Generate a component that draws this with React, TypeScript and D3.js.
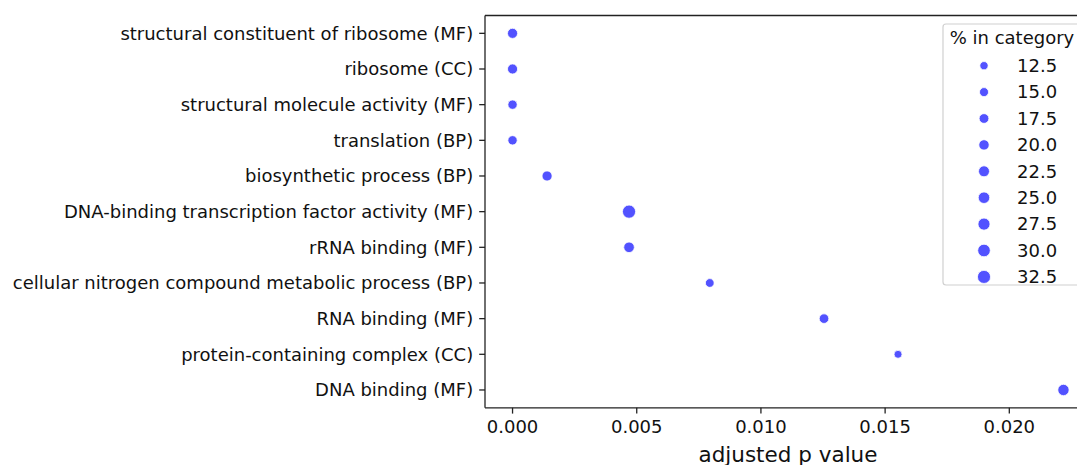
import React from "react";
import * as d3 from "d3";

const categories = [
  "structural constituent of ribosome (MF)",
  "ribosome (CC)",
  "structural molecule activity (MF)",
  "translation (BP)",
  "biosynthetic process (BP)",
  "DNA-binding transcription factor activity (MF)",
  "rRNA binding (MF)",
  "cellular nitrogen compound metabolic process (BP)",
  "RNA binding (MF)",
  "protein-containing complex (CC)",
  "DNA binding (MF)",
];
const adjustedP = [0, 0, 0, 0, 0.00139, 0.00469, 0.00469, 0.00794, 0.01254, 0.01552, 0.02218];
const pctInCategory = [19, 19, 16, 16, 19, 33, 21, 14, 17, 11.5, 24];
const legendValues = [12.5, 15.0, 17.5, 20.0, 22.5, 25.0, 27.5, 30.0, 32.5];
const xTicks = [0, 0.005, 0.01, 0.015, 0.02];

const W = 1077;
const H = 465;
const FONT = "DejaVu Sans, sans-serif";
const FS = 18;

export default function App() {
  const left = 485;
  const top = 15.5;
  const bottom = 407.8;
  const right = 1091;
  const pMax = d3.max(adjustedP) as number;
  const pad = pMax * 0.05;
  const x = d3.scaleLinear().domain([-pad, pMax + pad]).range([left, right]);
  const y = d3.scalePoint<string>().domain(categories).range([top, bottom]).padding(0.5);
  const sMin = d3.min(pctInCategory) as number;
  const sMax = d3.max(pctInCategory) as number;
  const area = d3.scaleLinear().domain([sMin, sMax]).range([8 * 8, 13.2 * 13.2]);
  const rad = (v: number) => Math.sqrt(area(v)) / 2;

  const legX = 943;
  const legTop = 24;
  const legBottom = 285;
  const legRight = 1081;
  const legRow0 = 65.7;
  const legStep = 26.4;
  const ink = "#111";

  return (
    <svg
      width={W}
      height={H}
      style={{ position: "absolute", left: 0, top: 0, background: "#fff" }}
      fontFamily={FONT}
    >
      <rect x={0} y={0} width={W} height={H} fill="#fff" />
      {categories.map((c, i) => (
        <circle
          key={c}
          cx={x(adjustedP[i])}
          cy={y(c) as number}
          r={rad(pctInCategory[i])}
          fill="#0000ff"
          fillOpacity={0.68}
          stroke="#ffffff"
          strokeWidth={0.8}
        />
      ))}
      <line x1={left} x2={W + 20} y1={top} y2={top} stroke="#222" strokeWidth={1.3} />
      <line x1={left} x2={W + 20} y1={bottom} y2={bottom} stroke="#222" strokeWidth={1.3} />
      <line x1={left} x2={left} y1={top} y2={bottom} stroke="#222" strokeWidth={1.3} />
      {categories.map((c) => (
        <g key={c} transform={`translate(0,${y(c)})`}>
          <line x1={left - 5.8} x2={left} stroke="#222" strokeWidth={1.3} />
          <text x={left - 11.8} dy="0.35em" textAnchor="end" fontSize={FS} fill={ink}>
            {c}
          </text>
        </g>
      ))}
      {xTicks.map((t) => (
        <g key={t} transform={`translate(${x(t)},${bottom})`}>
          <line y1={0} y2={5.8} stroke="#222" strokeWidth={1.3} />
          <text y={11.5} dy="0.76em" textAnchor="middle" fontSize={FS} fill={ink}>
            {d3.format(".3f")(t)}
          </text>
        </g>
      ))}
      <text x={(left + right) / 2} y={462} textAnchor="middle" fontSize={21.5} fill={ink}>
        adjusted p value
      </text>
      <rect
        x={legX}
        y={legTop}
        width={legRight - legX}
        height={legBottom - legTop}
        rx={3}
        fill="#fff"
        fillOpacity={0.8}
        stroke="#d0d0d0"
        strokeWidth={1.2}
      />
      <text
        x={(legX + legRight) / 2}
        y={38}
        dy="0.35em"
        textAnchor="middle"
        fontSize={FS}
        fill={ink}
      >
        % in category
      </text>
      {legendValues.map((v, i) => (
        <g key={v} transform={`translate(0,${legRow0 + i * legStep})`}>
          <circle
            cx={984}
            cy={0}
            r={rad(v)}
            fill="#0000ff"
            fillOpacity={0.68}
            stroke="#ffffff"
            strokeWidth={0.8}
          />
          <text x={1017} dy="0.35em" fontSize={FS} fill={ink}>
            {d3.format(".1f")(v)}
          </text>
        </g>
      ))}
    </svg>
  );
}
